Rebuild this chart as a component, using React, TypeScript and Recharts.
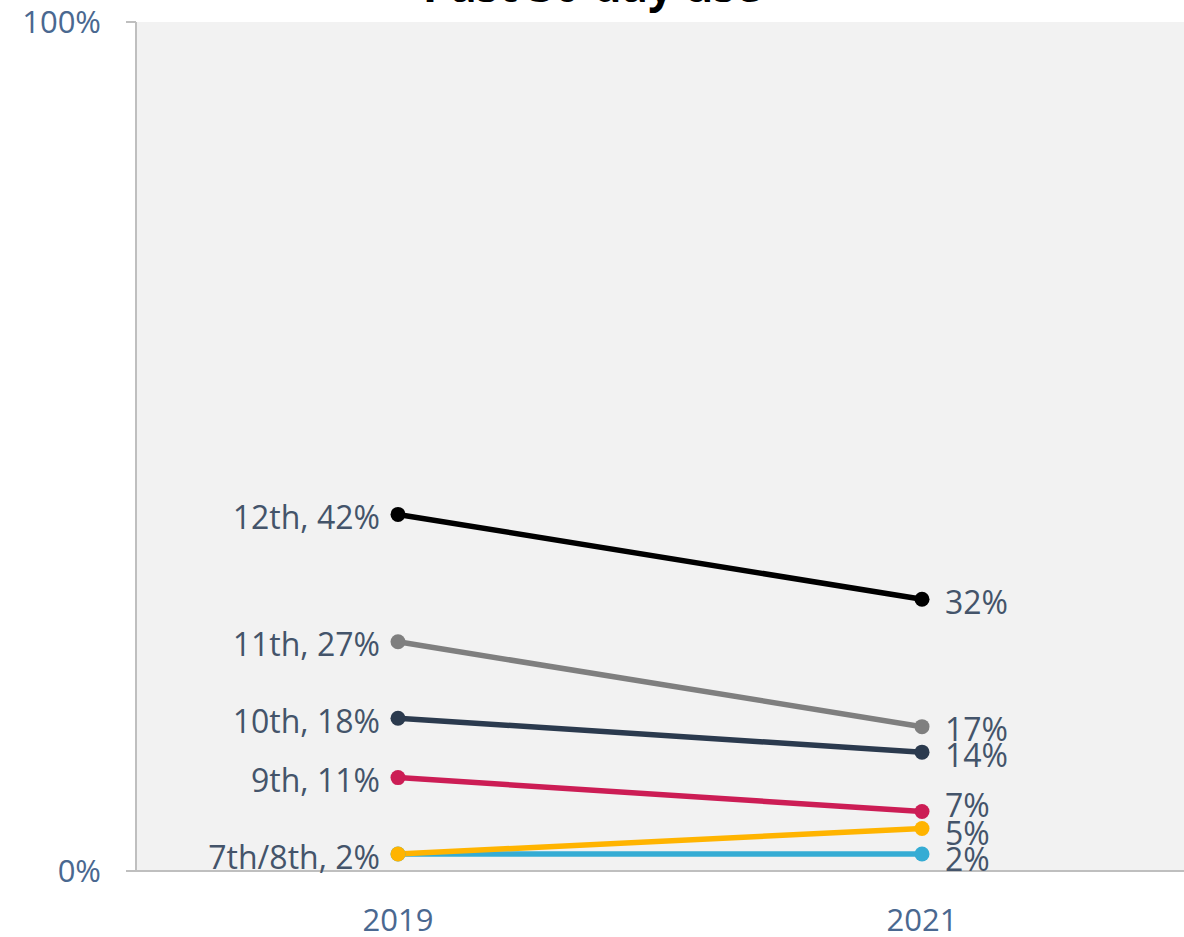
import React from 'react';
import { LineChart, Line, XAxis, YAxis, CartesianGrid, LabelList } from 'recharts';

const years = ['2019', '2021'];
const grade12 = [42, 32];
const grade11 = [27, 17];
const grade10 = [18, 14];
const grade9 = [11, 7];
const grade8 = [2, 2];
const grade7 = [2, 5];

const yTicks = [0, 100];

const FONT = '"Open Sans", "Noto Sans", sans-serif';
const LABEL_COLOR = '#44546a';
const AXIS_TEXT = '#4a6890';

// drawing order: last one ends up on top
const series = [
    { key: 'g12', name: '12th', values: grade12, color: '#000000', startLabel: true },
    { key: 'g11', name: '11th', values: grade11, color: '#7f7f7f', startLabel: true },
    { key: 'g10', name: '10th', values: grade10, color: '#2b3a4e', startLabel: true },
    { key: 'g9', name: '9th', values: grade9, color: '#cc1d55', startLabel: true },
    { key: 'g8', name: '8th', values: grade8, color: '#35acd4', startLabel: false },
    { key: 'g7', name: '7th/8th', values: grade7, color: '#ffb400', startLabel: true },
];

// nudge for end labels that would collide
const endLabelShift: Record<string, number> = { g9: -9, g7: 2, g8: 2 };

const data = years.map((year, i) => {
    const row: Record<string, string | number> = { year };
    series.forEach(s => {
        row[s.key] = s.values[i];
    });
    return row;
});

export default function App() {
    const makeLabel = (s: typeof series[number]) => (props: any) => {
        const { x, y, value, index } = props;
        if (index === 0) {
            if (!s.startLabel) return null;
            return (
                <text
                    x={x - 18}
                    y={y + 2}
                    textAnchor="end"
                    dominantBaseline="central"
                    fill={LABEL_COLOR}
                    style={{ fontSize: 32, fontFamily: FONT }}
                >
                    {`${s.name}, ${value}%`}
                </text>
            );
        }
        return (
            <text
                x={x + 23}
                y={y + 2 + (endLabelShift[s.key] || 0)}
                textAnchor="start"
                dominantBaseline="central"
                fill={LABEL_COLOR}
                style={{ fontSize: 32, fontFamily: FONT }}
            >
                {`${value}%`}
            </text>
        );
    };

    return (
        <div style={{ position: 'absolute', left: 0, top: 0, width: 1184, height: 937, overflow: 'hidden', background: '#ffffff' }}>
            <LineChart width={1184} height={937} data={data} margin={{ top: 22, right: 0, bottom: 0, left: 0 }}>
                <CartesianGrid horizontal={false} vertical={false} fill="#f2f2f2" stroke="none" />
                <XAxis
                    dataKey="year"
                    height={66}
                    padding={{ left: 262, right: 262 }}
                    tickLine={false}
                    tickMargin={32}
                    axisLine={{ stroke: '#bfbfbf', strokeWidth: 2 }}
                    tick={{ fill: AXIS_TEXT, fontSize: 31, fontFamily: FONT }}
                />
                <YAxis
                    width={136}
                    domain={[0, 100]}
                    ticks={yTicks}
                    tickFormatter={(v: number) => `${v}%`}
                    tickSize={10}
                    tickMargin={25}
                    axisLine={{ stroke: '#bfbfbf', strokeWidth: 2 }}
                    tickLine={{ stroke: '#bfbfbf', strokeWidth: 2 }}
                    tick={{ fill: AXIS_TEXT, fontSize: 31, fontFamily: FONT }}
                />
                {series.map(s => (
                    <Line
                        key={s.key}
                        dataKey={s.key}
                        stroke={s.color}
                        strokeWidth={5.5}
                        dot={{ r: 7.5, fill: s.color, stroke: s.color, strokeWidth: 0 }}
                        activeDot={false}
                        isAnimationActive={false}
                    >
                        <LabelList dataKey={s.key} content={makeLabel(s)} />
                    </Line>
                ))}
            </LineChart>
            <div
                style={{
                    position: 'absolute',
                    left: 0,
                    width: 1184,
                    top: -45,
                    textAlign: 'center',
                    fontFamily: FONT,
                    fontWeight: 700,
                    fontSize: 44,
                    lineHeight: '60px',
                    color: '#000000',
                }}
            >
                Past 30-day use
            </div>
        </div>
    );
}
